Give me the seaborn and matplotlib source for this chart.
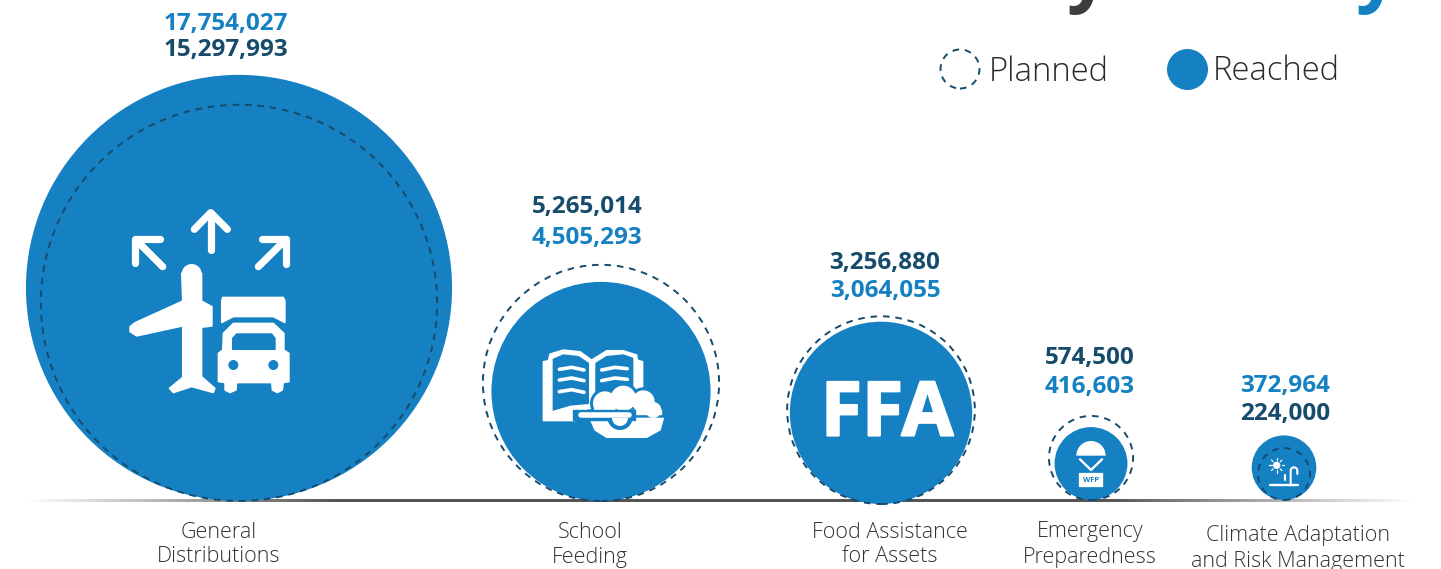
import numpy as np
import pandas as pd
import matplotlib
matplotlib.use('Agg')
import matplotlib.pyplot as plt
import matplotlib.patheffects as pe
from matplotlib.patches import Circle, Polygon, Wedge
import seaborn as sns

# values
categories = ['General\nDistributions', 'School\nFeeding', 'Food Assistance\nfor Assets',
              'Emergency\nPreparedness', 'Climate Adaptation\nand Risk Management']
planned = [15297993, 5265014, 3256880, 574500, 224000]
reached = [17754027, 4505293, 3064055, 416603, 372964]

# layout, all in pixels of the 1441x569 canvas
circle_x = [239, 601, 881, 1091, 1284]
circle_base = [501, 501, 504, 500, 500]
circle_scale = [1, 1, 1, 1, 0.93]
label_x = [219, 590, 890, 1090, 1298]
label_y = [(532, 557), (532, 557), (532, 557), (532, 557), (535, 561)]
value_x = [226, 587, 885, 1090, 1285]
value_y = [(24, 50), (207, 238), (263, 291), (358, 387), (386, 414)]

BLUE = '#1580c2'
NAVY = '#164b6c'
W, H = 1441, 569


def radius(v):
    return 4.5 + 0.0495 * np.sqrt(v)


def draw_circles(ax, xs, ys, values, rr, dashed=False):
    df = pd.DataFrame({'x': xs, 'y': ys, 'value': values})
    # scatter sizes are in points^2, dpi is 100
    sizes = {v: (2 * r * 72 / 100) ** 2 for v, r in zip(values, rr)}
    n = len(ax.collections)
    sns.scatterplot(data=df, x='x', y='y', size='value', sizes=sizes, color=BLUE,
                    linewidth=0, legend=False, ax=ax, clip_on=False, zorder=4 if dashed else 2)
    pts = ax.collections[n]
    if dashed:
        pts.set_facecolor('none')
        pts.set_edgecolor(NAVY)
        pts.set_linewidth(1.4)
        pts.set_linestyle((0, (3.4, 3.0)))


sns.set_style('white')
plt.rcParams['font.family'] = ['Open Sans', 'DejaVu Sans']

fig = plt.figure(figsize=(14.41, 5.69), dpi=100)
ax = fig.add_axes([0, 0, 1, 1])

# ground line, fades out at both ends
fade = np.ones((1, 700, 4))
fade[..., :3] = matplotlib.colors.to_rgb('#555555')
fade[..., 3] = np.clip(np.minimum(np.linspace(0, 1, 700), np.linspace(1, 0, 700)) * 4.5, 0, 1)
ax.imshow(fade, extent=(25, 1417, 502, 499.6), aspect='auto', zorder=1, interpolation='bilinear')

r_reached = [radius(v) * s for v, s in zip(reached, circle_scale)]
r_planned = [radius(v) * s for v, s in zip(planned, circle_scale)]
draw_circles(ax, circle_x, [b - r for b, r in zip(circle_base, r_reached)], reached, r_reached)
draw_circles(ax, circle_x, [b - r for b, r in zip(circle_base, r_planned)], planned, r_planned, dashed=True)

# value labels, the bigger number is always on top
for i in range(len(categories)):
    top, low = (reached[i], planned[i]) if reached[i] > planned[i] else (planned[i], reached[i])
    for v, y in zip((top, low), value_y[i]):
        ax.text(value_x[i], y, f'{v:,}', ha='center', va='center', fontsize=17.5, fontweight='bold',
                color=BLUE if v == reached[i] else NAVY, zorder=6)
    for line, y in zip(categories[i].split('\n'), label_y[i]):
        ax.text(label_x[i], y, line, ha='center', va='center', fontsize=15.5, fontweight='light',
                color='#333333', zorder=6)

# legend
draw_circles(ax, [960], [69], [1], [19.5], dashed=True)
draw_circles(ax, [1187], [69], [2], [20.5])
ax.text(989, 81, 'Planned', ha='left', va='baseline', fontsize=23.6, fontweight='light', color='#2b2b2b')
ax.text(1213, 80, 'Reached', ha='left', va='baseline', fontsize=23.6, fontweight='light', color='#2b2b2b')

# bits of the cut off page title
ax.text(1088, -3, 'y', ha='center', va='baseline', fontsize=54, fontweight='bold', color='#3d3d3d')
ax.text(1377, -3, 'y', ha='center', va='baseline', fontsize=54, fontweight='bold', color=BLUE)


def pts(coords, ox, oy):
    return [(ox + x / 3, oy + y / 3) for x, y in coords]


def shape(coords, ox, oy, color='white', z=5, lw=1.0):
    ax.add_patch(Polygon(pts(coords, ox, oy), closed=True, fc=color, ec=color, lw=lw,
                         joinstyle='round', zorder=z))


def stroke(coords, ox, oy, lw, color='white', z=5):
    p = pts(coords, ox, oy)
    ax.plot([a for a, b in p], [b for a, b in p], color=color, lw=lw, zorder=z,
            solid_capstyle='round', solid_joinstyle='round')


def dot(x, y, r, ox, oy, color='white', z=5):
    ax.add_patch(Circle((ox + x / 3, oy + y / 3), r / 3, fc=color, ec='none', zorder=z))


# general distributions: plane, truck, arrows
ox, oy = 100, 190
dot(275, 252, 30, ox, oy)
shape([(245, 250), (305, 250), (305, 333), (336, 350), (336, 408), (305, 412), (305, 560), (345, 595),
       (340, 608), (275, 590), (220, 608), (208, 595), (248, 562), (248, 408), (110, 438), (90, 425),
       (90, 410), (105, 398), (248, 333)], ox, oy)
shape([(368, 322), (550, 322), (555, 332), (555, 398), (520, 380), (400, 380), (365, 398), (365, 332)], ox, oy)
shape([(370, 430), (368, 480), (355, 490), (355, 575), (375, 578), (375, 600), (390, 608), (408, 600),
       (410, 578), (515, 578), (517, 600), (532, 608), (547, 600), (550, 578), (567, 575), (567, 490),
       (552, 480), (552, 430), (520, 400), (400, 400)], ox, oy)
shape([(398, 478), (398, 445), (410, 432), (515, 432), (525, 445), (525, 478)], ox, oy, BLUE, 6)
dot(400, 525, 15, ox, oy, BLUE, 6)
dot(520, 525, 15, ox, oy, BLUE, 6)
stroke([(332, 180), (332, 70)], ox, oy, 5.2)
stroke([(283, 118), (332, 68), (382, 118)], ox, oy, 5.2)
stroke([(188, 230), (108, 150)], ox, oy, 5.2)
stroke([(180, 148), (105, 148), (105, 218)], ox, oy, 5.2)
stroke([(475, 230), (558, 148)], ox, oy, 5.2)
stroke([(485, 148), (558, 148), (558, 222)], ox, oy, 5.2)

# school feeding: open book and bowl
ox, oy = 520, 330
shape([(70, 95), (85, 92), (90, 72), (130, 60), (180, 65), (215, 90), (260, 62), (310, 62), (350, 75),
       (352, 90), (368, 95), (368, 210), (215, 250), (165, 240), (165, 272), (70, 272)], ox, oy)
shape([(100, 88), (130, 75), (175, 80), (205, 100), (205, 220), (150, 225), (100, 240)], ox, oy, BLUE, 6)
shape([(228, 100), (260, 80), (310, 75), (338, 85), (338, 180), (280, 175), (228, 215)], ox, oy, BLUE, 6)
for y0 in (118, 150, 185):
    stroke([(118, y0), (155, y0 - 6), (192, y0 + 2)], ox, oy, 2.6, z=7)
for y0 in (118, 150):
    stroke([(245, y0 + 2), (285, y0 - 6), (322, y0 - 2)], ox, oy, 2.6, z=7)
for x0, y0, r in [(255, 220, 36), (310, 205, 38), (370, 215, 34), (400, 240, 24), (240, 240, 18)]:
    dot(x0, y0, r + 9, ox, oy, BLUE, 8)
shape([(205, 240), (434, 240), (440, 335), (200, 335)], ox, oy, BLUE, 8)
for x0, y0, r in [(255, 220, 36), (310, 205, 38), (370, 215, 34), (400, 240, 24), (240, 240, 18)]:
    dot(x0, y0, r, ox, oy, 'white', 9)
shape([(218, 240), (424, 240), (424, 252), (218, 252)], ox, oy, 'white', 9)
shape([(160, 240), (345, 240), (345, 270), (160, 270)], ox, oy, BLUE, 10)
stroke([(182, 255), (328, 255)], ox, oy, 4.0, z=11)
shape([(210, 265), (430, 265), (420, 300), (380, 322), (260, 322), (225, 300)], ox, oy, 'white', 9)
ax.add_patch(Wedge((ox + 300 / 3, oy + 262 / 3), 38 / 3, 0, 180, fc=BLUE, ec='none', zorder=10))
ax.add_patch(Wedge((ox + 300 / 3, oy + 264 / 3), 24 / 3, 0, 180, fc='white', ec='none', zorder=11))

# food assistance for assets
ffa = ax.text(887, 416, 'FFA', ha='center', va='center', fontsize=54, fontweight='bold', color='white',
              zorder=5)
ffa.set_path_effects([pe.withStroke(linewidth=1.6, foreground='white')])

# emergency preparedness: air drop
ox, oy = 1030, 400
ax.add_patch(Wedge((ox + 183 / 3, oy + 167 / 3), 44 / 3, 180, 360, fc='white', ec='none', zorder=5))
stroke([(150, 178), (183, 210), (216, 178)], ox, oy, 1.7)
shape([(148, 220), (218, 220), (218, 260), (148, 260)], ox, oy, lw=0.2)
ax.text(ox + 183 / 3, oy + 240 / 3, 'WFP', ha='center', va='center', fontsize=5.4, fontweight='bold',
        color=BLUE, zorder=6)

# climate adaptation: sun and tap
dot(740, 196, 11, ox, oy)
for a in np.arange(0, 360, 45):
    c, s = np.cos(np.radians(a)), np.sin(np.radians(a))
    stroke([(740 + 15 * c, 196 + 15 * s), (740 + 22 * c, 196 + 22 * s)], ox, oy, 0.9)
stroke([(720, 256), (805, 256)], ox, oy, 1.7)
t = np.radians(np.linspace(180, 360, 20))
arc = [(792 + 10 * np.cos(a), 212 + 10 * np.sin(a)) for a in t]
stroke([(782, 256)] + arc + [(802, 222)], ox, oy, 1.5)
stroke([(766, 240), (766, 226)], ox, oy, 1.5)

ax.set_xlim(0, W)
ax.set_ylim(H, 0)
ax.axis('off')

fig.savefig('out.png', dpi=100)
